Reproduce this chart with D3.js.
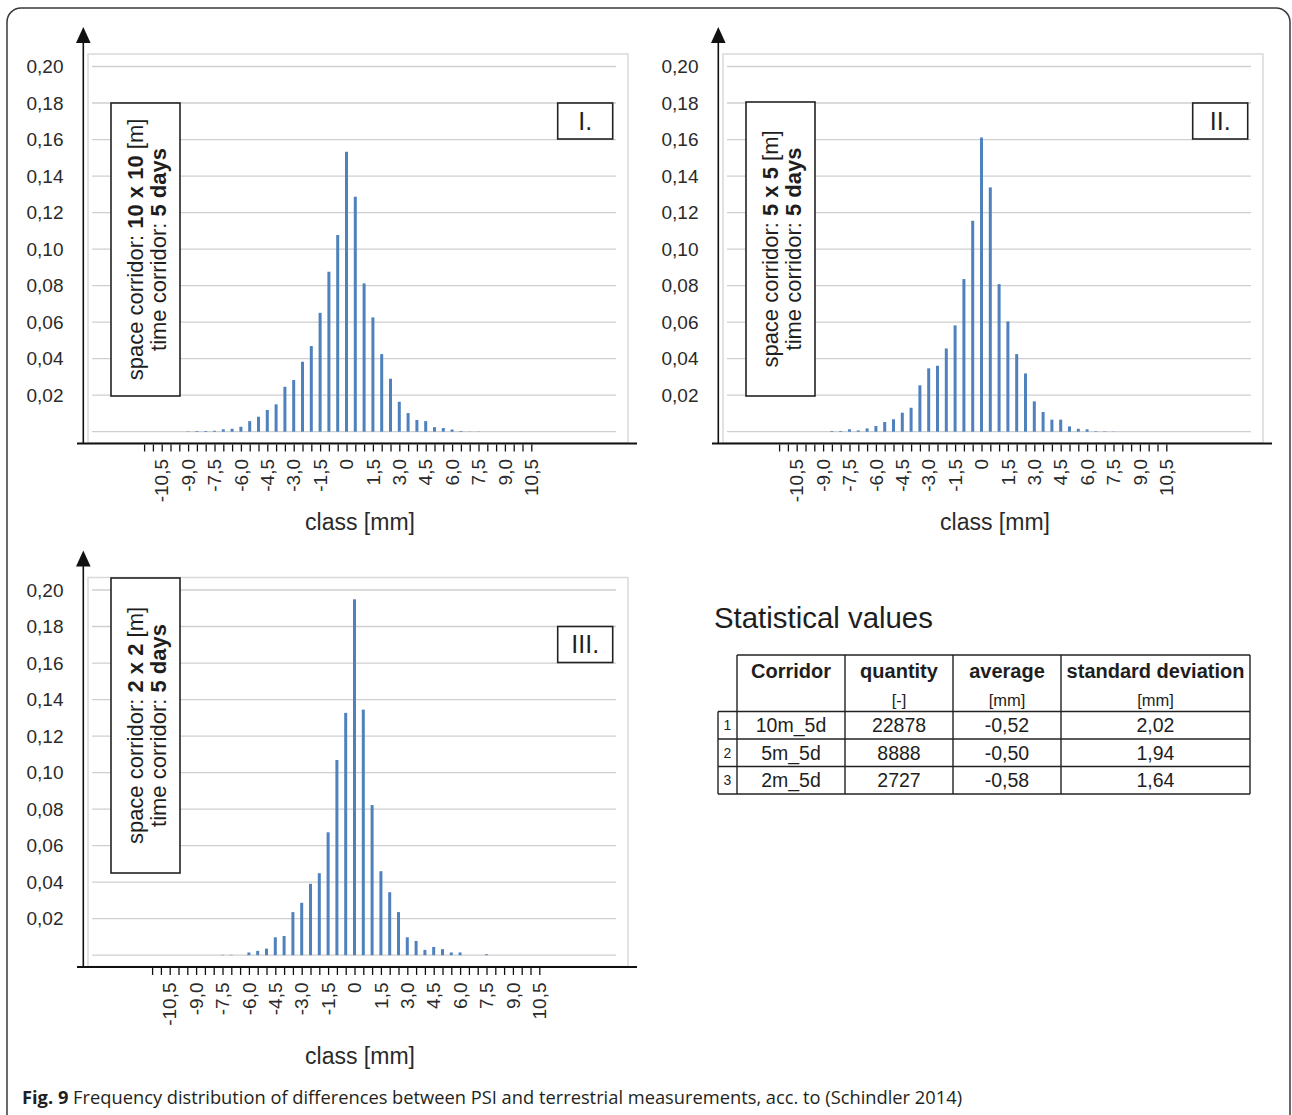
<!DOCTYPE html>
<html><head><meta charset="utf-8">
<script src="https://cdn.jsdelivr.net/npm/d3@7"></script>
<style>body{margin:0;background:#fff}svg{display:block}</style>
</head><body>
<svg id="c" width="1292" height="1115"></svg>
<script>
// ---------- DATA ----------
const classes = [-10.5,-10,-9.5,-9,-8.5,-8,-7.5,-7,-6.5,-6,-5.5,-5,-4.5,-4,-3.5,-3,-2.5,-2,-1.5,-1,-0.5,0,0.5,1,1.5,2,2.5,3,3.5,4,4.5,5,5.5,6,6.5,7,7.5,8,8.5,9,9.5,10,10.5];
// relative frequency, panel I (10 x 10 m, 5 days)
const freqI = [0,0,0,0.0002,0.0004,0.0004,0.0005,0.0013,0.0016,0.0027,0.0058,0.0082,0.0119,0.0150,0.0246,0.0283,0.0383,0.0469,0.0651,0.0876,0.1077,0.1533,0.1287,0.0812,0.0626,0.0425,0.0290,0.0164,0.0102,0.0064,0.0058,0.0025,0.0020,0.0012,0.0004,0.0001,0.0001,0,0,0,0,0,0];
// panel II (5 x 5 m, 5 days)
const freqII = [0,0,0,0,0.0004,0.0004,0.0013,0.0007,0.0018,0.0031,0.0053,0.0068,0.0104,0.0131,0.0254,0.0347,0.0361,0.0456,0.0582,0.0836,0.1155,0.1611,0.1338,0.0808,0.0604,0.0425,0.0319,0.0166,0.0108,0.0066,0.0066,0.0029,0.0016,0.0013,0.0003,0.0002,0.0001,0,0,0,0,0,0];
// panel III (2 x 2 m, 5 days)
const freqIII = [0,0,0,0,0,0,0.0002,0.0002,0,0.0015,0.0024,0.0036,0.0098,0.0105,0.0236,0.0287,0.0391,0.0449,0.0673,0.1069,0.1327,0.1949,0.1345,0.0822,0.0460,0.0345,0.0236,0.0098,0.0078,0.0029,0.0045,0.0033,0.0015,0.0015,0,0,0.0005,0,0,0,0,0,0];
const yTicks = [0,0.02,0.04,0.06,0.08,0.10,0.12,0.14,0.16,0.18,0.20];
const xLabelClasses = [-10.5,-9,-7.5,-6,-4.5,-3,-1.5,0,1.5,3,4.5,6,7.5,9,10.5];
const xLabels = ["-10,5","-9,0","-7,5","-6,0","-4,5","-3,0","-1,5","0","1,5","3,0","4,5","6,0","7,5","9,0","10,5"];
const numerals = ["I.","II.","III."];
const spaceCorridor = ["10 x 10","5 x 5","2 x 2"];
const timeCorridor = "5 days";
const tableHeader = ["Corridor","quantity","average","standard deviation"];
const tableUnits = ["","[-]","[mm]","[mm]"];
const corridors = ["10m_5d","5m_5d","2m_5d"];
const quantity = ["22878","8888","2727"];
const average = ["-0,52","-0,50","-0,58"];
const stdDev = ["2,02","1,94","1,64"];

// ---------- DRAW ----------
const FONT = "'Liberation Sans', Arial, sans-serif";
const svg = d3.select("#c");
svg.append("rect").attr("width",1292).attr("height",1115).attr("fill","#fff");
svg.append("rect").attr("x",7).attr("y",8).attr("width",1283).attr("height",1150).attr("rx",14)
  .attr("fill","none").attr("stroke","#3a3a3a").attr("stroke-width",1.5);

const fmt = d => d3.format(".2f")(d).replace(".", ",");
const tickMarks = d3.range(-11.5, 10.51, 0.5);

const panels = [
  {ox:0,   oy:0,     cx:346.5, values:freqI,   boxTop:103, boxBot:396, classY:530},
  {ox:635, oy:0,     cx:346.5, values:freqII,  boxTop:102, boxBot:396, classY:530},
  {ox:0,   oy:523.5, cx:354.5, values:freqIII, boxTop:578, boxBot:873, classY:1064}
];

panels.forEach((p, pi) => {
  const {ox, oy} = p;
  const g = svg.append("g").style("font-family", FONT);
  const y = d3.scaleLinear().domain([0, 0.2]).range([431.7 + oy, 66.5 + oy]);
  const x = d3.scaleLinear().domain([0, 10.5]).range([p.cx + ox, p.cx + ox + 184.8]);

  // plot area border
  g.append("rect").attr("x", 88 + ox).attr("y", 54 + oy).attr("width", 540).attr("height", 389)
    .attr("fill", "none").attr("stroke", "#d9d9d9").attr("stroke-width", 1.5);
  // gridlines
  g.append("g").selectAll("line").data(yTicks).join("line")
    .attr("x1", 92 + ox).attr("x2", 616 + ox)
    .attr("y1", d => y(d)).attr("y2", d => y(d))
    .attr("stroke", "#cfcfcf").attr("stroke-width", 1.3);
  // bars
  g.append("g").selectAll("rect")
    .data(classes.map((c, i) => ({c, v: p.values[i]})).filter(d => d.v > 0))
    .join("rect")
    .attr("x", d => x(d.c) - 1.5).attr("width", 3)
    .attr("y", d => y(d.v)).attr("height", d => y(0) - y(d.v))
    .attr("fill", "#4f81bd");

  // y axis with arrow
  g.append("line").attr("x1", 83.3 + ox).attr("x2", 83.3 + ox).attr("y1", 444 + oy).attr("y2", 40 + oy)
    .attr("stroke", "#111").attr("stroke-width", 1.6);
  g.append("path").attr("d", `M${83.3+ox},${27+oy} L${76+ox},${43+oy} L${90.6+ox},${43+oy} Z`).attr("fill", "#111");
  g.append("g").selectAll("text").data(yTicks.filter(d => d > 0)).join("text")
    .attr("x", 63.5 + ox).attr("y", d => y(d)).attr("dy", "0.35em").attr("text-anchor", "end")
    .attr("font-size", 19).attr("fill", "#2a2a2a").text(fmt);

  // x axis line
  g.append("line").attr("x1", 77 + ox).attr("x2", 637 + ox).attr("y1", 443.5 + oy).attr("y2", 443.5 + oy)
    .attr("stroke", "#111").attr("stroke-width", 1.8);
  const ag = g.append("g").attr("transform", `translate(0,${444.5 + oy})`)
    .call(d3.axisBottom(x).tickValues(tickMarks).tickSize(7).tickFormat(""));
  ag.select(".domain").remove();
  ag.selectAll("line").attr("stroke", "#111").attr("stroke-width", 1.3);
  g.append("g").selectAll("text").data(xLabelClasses).join("text")
    .attr("transform", d => `translate(${x(d)},${459 + oy}) rotate(-90)`)
    .attr("text-anchor", "end").attr("dy", "0.35em")
    .attr("font-size", 19).attr("fill", "#2a2a2a")
    .text((d, i) => xLabels[i]);
  g.append("text").attr("x", 360 + ox).attr("y", p.classY).attr("text-anchor", "middle")
    .attr("font-size", 23).attr("fill", "#2a2a2a").text("class [mm]");

  // corridor box
  g.append("rect").attr("x", 111 + ox).attr("y", p.boxTop).attr("width", 69).attr("height", p.boxBot - p.boxTop)
    .attr("fill", "#fff").attr("stroke", "#222").attr("stroke-width", 1.6);
  const tg = g.append("g").attr("transform", `translate(${145.5 + ox},${(p.boxTop + p.boxBot) / 2}) rotate(-90)`)
    .attr("font-size", 22).attr("fill", "#1e1e1e");
  const t1 = tg.append("text").attr("x", 0).attr("y", -2.5).attr("text-anchor", "middle");
  t1.append("tspan").text("space corridor: ");
  t1.append("tspan").attr("font-weight", "bold").text(spaceCorridor[pi]);
  t1.append("tspan").text(" [m]");
  const t2 = tg.append("text").attr("x", 0).attr("y", 20.5).attr("text-anchor", "middle");
  t2.append("tspan").text("time corridor: ");
  t2.append("tspan").attr("font-weight", "bold").text(timeCorridor);

  // numeral box
  g.append("rect").attr("x", 557.7 + ox).attr("y", 103 + oy).attr("width", 55).attr("height", 36)
    .attr("fill", "#fff").attr("stroke", "#222").attr("stroke-width", 1.6);
  g.append("text").attr("x", 585.2 + ox).attr("y", 121 + oy).attr("dy", "0.35em").attr("text-anchor", "middle")
    .attr("font-size", 25).attr("fill", "#1e1e1e").text(numerals[pi]);
});

// ---------- TABLE ----------
const tg = svg.append("g").style("font-family", FONT).attr("fill", "#1e1e1e");
tg.append("text").attr("x", 714).attr("y", 628).attr("font-size", 29.4).text("Statistical values");
const cx = [718, 737, 845, 953, 1061, 1250];
const ry = [655, 711.5, 739, 766.5, 794];
const stroke = l => l.attr("stroke", "#222").attr("stroke-width", 1.4);
stroke(tg.append("line").attr("x1", cx[1]).attr("x2", cx[5]).attr("y1", ry[0]).attr("y2", ry[0]));
cx.slice(1).forEach(xx => stroke(tg.append("line").attr("x1", xx).attr("x2", xx).attr("y1", ry[0]).attr("y2", ry[4])));
stroke(tg.append("line").attr("x1", cx[0]).attr("x2", cx[0]).attr("y1", ry[1]).attr("y2", ry[4]));
ry.slice(1).forEach(yy => stroke(tg.append("line").attr("x1", cx[0]).attr("x2", cx[5]).attr("y1", yy).attr("y2", yy)));
tableHeader.forEach((h, i) => {
  const mx = (cx[i + 1] + cx[i + 2]) / 2;
  tg.append("text").attr("x", mx).attr("y", 671).attr("dy", "0.35em").attr("text-anchor", "middle")
    .attr("font-size", 20).attr("font-weight", "bold").text(h);
  tg.append("text").attr("x", mx).attr("y", 700).attr("dy", "0.35em").attr("text-anchor", "middle")
    .attr("font-size", 16.5).text(tableUnits[i]);
});
const rows = corridors.map((c, i) => [c, quantity[i], average[i], stdDev[i]]);
rows.forEach((r, ri) => {
  const my = (ry[ri + 1] + ry[ri + 2]) / 2;
  tg.append("text").attr("x", (cx[0] + cx[1]) / 2).attr("y", my).attr("dy", "0.35em").attr("text-anchor", "middle")
    .attr("font-size", 14).text(ri + 1);
  r.forEach((v, ci) => {
    tg.append("text").attr("x", (cx[ci + 1] + cx[ci + 2]) / 2).attr("y", my).attr("dy", "0.35em")
      .attr("text-anchor", "middle").attr("font-size", 19.5).text(v);
  });
});

// ---------- CAPTION ----------
const cap = svg.append("text").attr("x", 22).attr("y", 1104)
  .style("font-family", "'Open Sans', 'Noto Sans', sans-serif").attr("font-size", 18.3).attr("fill", "#231f20");
cap.append("tspan").attr("font-weight", "bold").text("Fig. 9");
cap.append("tspan").text(" Frequency distribution of differences between PSI and terrestrial measurements, acc. to (Schindler 2014)");
</script>
</body></html>
